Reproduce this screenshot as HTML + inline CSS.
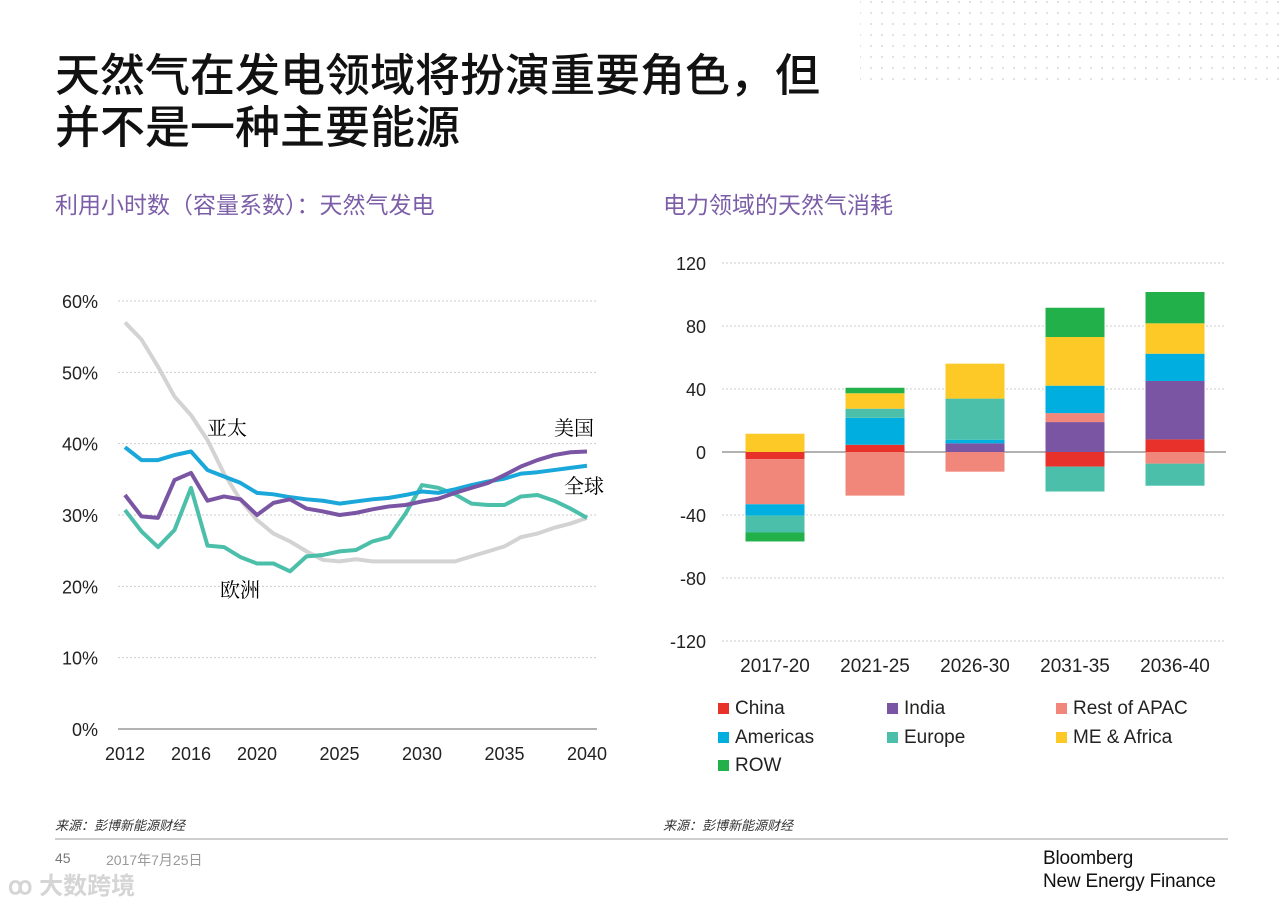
<!DOCTYPE html>
<html><head><meta charset="utf-8">
<style>
body{margin:0;background:#fff;}
#root{position:relative;width:1280px;height:904px;overflow:hidden;background:#fff;font-family:"Liberation Sans","Noto Sans CJK SC",sans-serif;}
.t{position:absolute;white-space:nowrap;}
</style></head>
<body>
<div id="root">
<svg width="1280" height="904" style="position:absolute;left:0;top:0">
  <defs><pattern id="dots" width="11" height="11" patternUnits="userSpaceOnUse"><circle cx="2" cy="2" r="1" fill="#d8d8d8"/></pattern></defs>
  <rect x="860" y="0" width="420" height="80" fill="url(#dots)"/>
  <g id="left"></g>
  <g id="right"></g>
  <line x1="55" y1="839" x2="1228" y2="839" stroke="#cfcfcf" stroke-width="2"/>
</svg>
<div class="t" style="left:55px;top:50px;font-size:45px;line-height:52px;font-weight:500;color:#111;">天然气在发电领域将扮演重要角色，但<br>并不是一种主要能源</div>
<div class="t" style="left:55px;top:186px;font-size:23px;color:#7b5ea7;">利用小时数（容量系数）：天然气发电</div>
<div class="t" style="left:663px;top:186px;font-size:23px;color:#7b5ea7;">电力领域的天然气消耗</div>
<div class="t" style="left:207px;top:412px;font-size:20px;font-family:'Liberation Serif','Noto Serif CJK SC',serif;">亚太</div>
<div class="t" style="left:554px;top:412px;font-size:20px;font-family:'Liberation Serif','Noto Serif CJK SC',serif;">美国</div>
<div class="t" style="left:564px;top:470px;font-size:20px;font-family:'Liberation Serif','Noto Serif CJK SC',serif;">全球</div>
<div class="t" style="left:220px;top:574px;font-size:20px;font-family:'Liberation Serif','Noto Serif CJK SC',serif;">欧洲</div>
<div id="legend"></div>
<div class="t" style="left:55px;top:815px;font-size:13px;font-style:italic;color:#333;">来源：彭博新能源财经</div>
<div class="t" style="left:663px;top:815px;font-size:13px;font-style:italic;color:#333;">来源：彭博新能源财经</div>
<div class="t" style="left:55px;top:850px;font-size:14px;color:#777;">45</div>
<div class="t" style="left:106px;top:850px;font-size:14px;color:#999;">2017年7月25日</div>
<div class="t" style="left:8px;top:866px;font-size:24px;color:#d5d5d5;font-weight:bold;">ꝏ 大数跨境</div>
<div class="t" style="left:1043px;top:847px;font-size:19px;line-height:23px;color:#111;letter-spacing:-0.2px;">Bloomberg<br>New Energy Finance</div>
</div>
<script>
// ---- left chart data ----
const years=[2012,2013,2014,2015,2016,2017,2018,2019,2020,2021,2022,2023,2024,2025,2026,2027,2028,2029,2030,2031,2032,2033,2034,2035,2036,2037,2038,2039,2040];
const apac=[57.0,54.6,50.8,46.6,44.0,40.5,35.8,32.1,29.3,27.4,26.3,24.9,23.7,23.5,23.8,23.5,23.5,23.5,23.5,23.5,23.5,24.2,24.9,25.6,26.9,27.4,28.2,28.8,29.6];
const globalS=[39.5,37.7,37.7,38.4,38.9,36.3,35.4,34.5,33.1,32.9,32.5,32.2,32.0,31.6,31.9,32.2,32.4,32.8,33.3,33.1,33.6,34.2,34.7,35.1,35.8,36.0,36.3,36.6,36.9];
const usa=[32.8,29.8,29.6,34.9,35.9,32.0,32.6,32.2,30.0,31.7,32.2,30.9,30.5,30.0,30.3,30.8,31.2,31.4,31.9,32.3,33.1,33.8,34.5,35.6,36.8,37.7,38.4,38.8,38.9];
const europe=[30.7,27.7,25.5,27.9,33.8,25.7,25.5,24.1,23.2,23.2,22.1,24.2,24.4,24.9,25.1,26.3,26.9,30.2,34.2,33.8,32.9,31.6,31.4,31.4,32.6,32.8,32.0,30.9,29.6];
const leftTicks=[0,10,20,30,40,50,60];
const leftXTicks=[2012,2016,2020,2025,2030,2035,2040];
// ---- right chart data ----
const periods=["2017-20","2021-25","2026-30","2031-35","2036-40"];
const seriesNames=["China","India","Rest of APAC","Americas","Europe","ME & Africa","ROW"];
const china=[-4.5,4.6,0,-9.3,8.0];
const india=[0,0,5.5,19.0,37.1];
const restApac=[-28.7,-27.7,-12.5,5.7,-7.4];
const americas=[-7.2,17.1,2.3,17.4,17.3];
const europeGas=[-10.7,5.8,26.1,-15.8,-14.0];
const meAfrica=[11.6,9.8,22.2,30.9,19.3];
const row=[-5.7,3.5,0,18.6,19.9];
const rightTicks=[-120,-80,-40,0,40,80,120];

const NS="http://www.w3.org/2000/svg";
function mk(tag,attrs,parent){const e=document.createElementNS(NS,tag);for(const k in attrs)e.setAttribute(k,attrs[k]);parent.appendChild(e);return e;}
function txt(s,x,y,anchor,size,parent){const e=mk('text',{x:x,y:y,'text-anchor':anchor,'font-size':size,fill:'#222','font-family':'Liberation Sans, sans-serif'},parent);e.textContent=s;return e;}

// left
const L=document.getElementById('left');
const lx=y=>125+(y-2012)*(587-125)/28;
const ly=v=>729-v*(729-301)/60;
leftTicks.forEach(t=>{
  const g=mk('line',{x1:118,x2:597,y1:ly(t),y2:ly(t),stroke:t===0?'#999':'#ccc','stroke-width':t===0?1.5:1,'stroke-dasharray':t===0?'':'2,2'},L);
  
  
  const tt=txt(t+'%',98,ly(t)+7,'end',18,L);
  
  
});
leftXTicks.forEach(y=>{
  const tt=txt(String(y),lx(y),760,'middle',18,L);
  
  
});
function line(arr,color,name){
  const p=mk('polyline',{points:arr.map((v,i)=>lx(years[i])+','+ly(v)).join(' '),fill:'none',stroke:color,'stroke-width':4,'stroke-linejoin':'round'},L);
  
  
}
line(apac,'#d3d3d3','line-apac');
line(europe,'#4cbfaa','line-europe');
line(globalS,'#1aa7d9','line-global');
line(usa,'#7a55a3','line-usa');

// right
const R=document.getElementById('right');
const ry=v=>452-v*(452-263)/120;
const rx=i=>775+i*100;
rightTicks.forEach(t=>{
  const g=mk('line',{x1:722,x2:1226,y1:ry(t),y2:ry(t),stroke:t===0?'#999':'#ccc','stroke-width':t===0?1.5:1,'stroke-dasharray':t===0?'':'2,2'},R);
  
  
  const tt=txt(String(t),706,ry(t)+7,'end',18,R);
  
  
});
periods.forEach((p,i)=>{
  const tt=txt(p,rx(i),672,'middle',19,R);
  
  
});
const allSeries=[china,india,restApac,americas,europeGas,meAfrica,row];
const colors=['#e8312a','#7a55a3','#f0877a','#00aee0','#4cbfaa','#fcc926','#22b04b'];
periods.forEach((p,i)=>{
  let pos=0,neg=0;
  allSeries.forEach((s,k)=>{
    const v=s[i]; if(!v) return;
    let a,b;
    if(v>0){a=pos;b=pos+v;pos=b;}else{a=neg;b=neg+v;neg=b;}
    const r=mk('rect',{x:rx(i)-29.5,width:59,y:Math.min(ry(a),ry(b)),height:Math.abs(ry(a)-ry(b)),fill:colors[k]},R);
    
    
  });
});
// legend
const lg=document.getElementById('legend');
seriesNames.forEach((n,k)=>{
  const col=k%3,rw=Math.floor(k/3);
  const d=document.createElement('div');
  d.className='t';
  d.style.cssText='left:'+(718+col*169)+'px;top:'+(698+rw*28.5)+'px;font-size:19px;color:#222;';
  d.innerHTML='<span style="display:inline-block;width:11px;height:11px;background:'+colors[k]+';margin-right:6px;"></span>'+n.replace('&','&amp;');
  
  
  lg.appendChild(d);
});
</script>
</body></html>
